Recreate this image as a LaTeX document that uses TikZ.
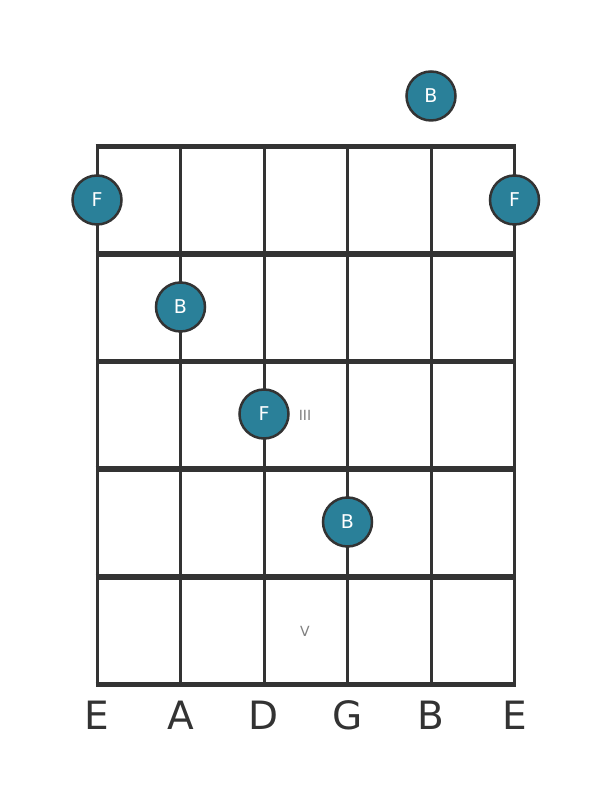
\documentclass[tikz,border=0pt]{standalone}
\usepackage{fontspec}
\setmainfont{DejaVu Sans}
\usetikzlibrary{positioning}
\definecolor{gridgray}{HTML}{333333}
\definecolor{noteteal}{HTML}{2A8099}
\definecolor{romangray}{HTML}{808080}

\begin{document}
\begin{tikzpicture}[x=1pt,y=1pt,
  fret/.style={draw=gridgray,line width=5.5pt},
  string/.style={draw=gridgray,line width=3pt},
  note/.style={circle,fill=noteteal,draw=gridgray,line width=2.5pt,minimum size=49pt,inner sep=0pt,text=white,font=\fontsize{19}{19}\selectfont},
  roman/.style={text=romangray,font=\fontsize{14}{14}\selectfont},
  strname/.style={text=gridgray,font=\fontsize{39}{39}\selectfont}]
\useasboundingbox (0,0) rectangle (611,801);
\fill[white] (0,0) rectangle (611,801);

% strings
\draw[string] (97,654.7) -- (97,116.5);
\draw[string] (180.5,654.7) -- (180.5,116.5);
\draw[string] (264,654.7) -- (264,116.5);
\draw[string] (347.5,654.7) -- (347.5,116.5);
\draw[string] (431,654.7) -- (431,116.5);
\draw[string] (514.5,654.7) -- (514.5,116.5);

% frets
\draw[fret] (95.5,654.7) -- (516,654.7);
\draw[fret] (95.5,547.06) -- (516,547.06);
\draw[fret] (95.5,439.42) -- (516,439.42);
\draw[fret] (95.5,331.78) -- (516,331.78);
\draw[fret] (95.5,224.14) -- (516,224.14);
\draw[fret] (95.5,116.5) -- (516,116.5);

% fret markers
\node[roman] (mIII) at (305,386) {III};
\node[roman] (mV) at (305,170) {V};

% notes
\node[note] (nB0) at (431,705) {B};
\node[note] (nF1) at (97,601) {F};
\node[note] (nF2) at (514.5,601) {F};
\node[note] (nB1) at (180.5,494) {B};
\node[note] (nF3) at (264,387) {F};
\node[note] (nB2) at (347.5,279) {B};

% string names
\node[strname] (sE) at (97,86) {E};
\node[strname] (sA) at (180.5,86) {A};
\node[strname] (sD) at (264,86) {D};
\node[strname] (sG) at (347.5,86) {G};
\node[strname] (sB) at (431,86) {B};
\node[strname] (sEh) at (514.5,86) {E};

\end{tikzpicture}
\end{document}
